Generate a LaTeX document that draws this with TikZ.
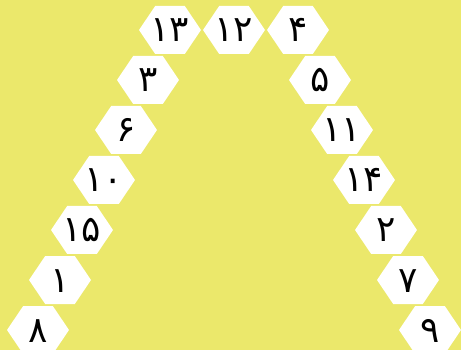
\documentclass[tikz,border=0pt]{standalone}
\usepackage{fontspec}
\newfontfamily\persianfont[Script=Arabic]{DejaVu Sans}
\usetikzlibrary{shapes.symbols}
\definecolor{bgyellow}{RGB}{235,232,107}
\newcommand{\cellnum}[1]{\makebox[0pt]{#1}}

\begin{document}
\begin{tikzpicture}[
  x=1pt, y=-1pt,
  font=\persianfont\fontsize{36}{40}\selectfont,
  hexcell/.style={signal, signal to=west and east, signal pointer angle=112, fill=white, draw=none, minimum width=62pt, minimum height=48pt, inner sep=0pt, outer sep=0pt, text height=24pt, text depth=0pt}
]
\useasboundingbox[fill=bgyellow] (0,0) rectangle (461,350);

% top row
\node[hexcell] (top13) at (170,30) {\cellnum{۱۳}};
\node[hexcell] (top12) at (234,30) {\cellnum{۱۲}};
\node[hexcell] (top4) at (298,30) {\cellnum{۴}};

% left leg
\foreach \lab [count=\i] in {۳,۶,۱۰,۱۵,۱,۸}
  \node[hexcell] (left\i) at (170-22*\i, 30+50*\i) {\cellnum{\lab}};

% right leg
\foreach \lab [count=\i] in {۵,۱۱,۱۴,۲,۷,۹}
  \node[hexcell] (right\i) at (298+22*\i, 30+50*\i) {\cellnum{\lab}};
\end{tikzpicture}
\end{document}
